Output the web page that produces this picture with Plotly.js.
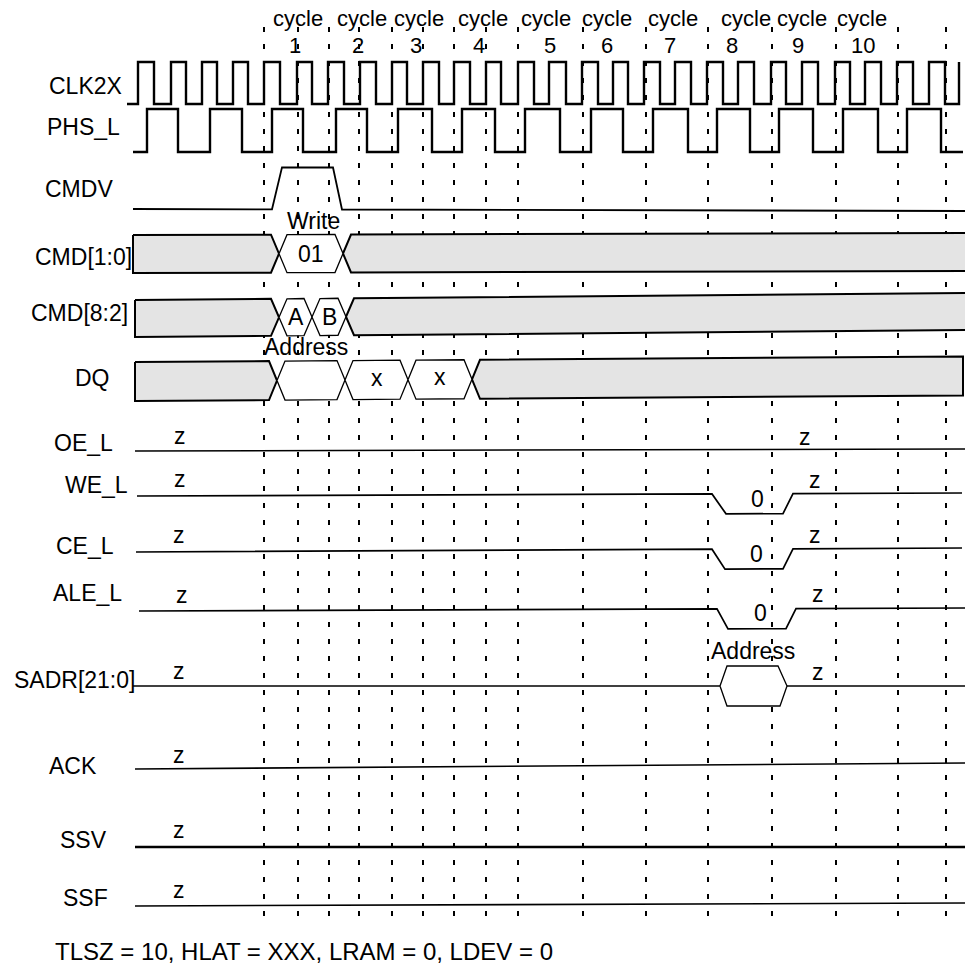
<!DOCTYPE html>
<html><head><meta charset="utf-8">
<script src="https://cdn.plot.ly/plotly-3.0.1.min.js"></script>
<style>html,body{margin:0;padding:0;background:#fff;overflow:hidden}</style>
</head><body><div id="chart" style="width:965px;height:966px"></div>
<script>
// ---------------- DATA ----------------
const signalNames = ['CLK2X','PHS_L','CMDV','CMD[1:0]','CMD[8:2]','DQ','OE_L','WE_L','CE_L','ALE_L','SADR[21:0]','ACK','SSV','SSF'];
const cycleNumbers = ['1','2','3','4','5','6','7','8','9','10'];
const footerText = 'TLSZ = 10, HLAT = XXX, LRAM = 0, LDEV = 0';

// clock edge times
const clkRise = [138,171,202,233,264,297,328,360,392,423,454,486,518,549,582,613,644,675,707,738,771,802,835,865,897,929,959];
const clkFall = [154,186,217,248,280,312,344,376,407,439,470,501,534,566,598,628,660,691,723,754,786,818,850,881,913,945];
const phsRise = [147,210,272,336,398,462,525,591,653,717,779,843,907];
const phsFall = [178,242,303,367,432,495,560,623,688,750,813,878,941];

// cycle boundary markers (dotted lines)
const cycleMarks = [264,298,329,359,392,423,454,486,518,583,646,708,772,836,898,946];

// single-bit signals: time points and logic level (1 = high / z, 0 = low)
const cmdvT = [133,272,282,333,342,965];   const cmdvL = [0,0,1,1,0,0];
const oeT   = [135,965];                   const oeL   = [1,1];
const weT   = [137,712,726,783,793,962];   const weL   = [1,1,0,0,1,1];
const ceT   = [136,712,725,783,793,962];   const ceL   = [1,1,0,0,1,1];
const aleT  = [139,717,728,786,796,965];   const aleL  = [1,1,0,0,1,1];
const ackT  = [135,965];                   const ackL  = [1,1];
const ssvT  = [135,965];                   const ssvL  = [1,1];
const ssfT  = [135,965];                   const ssfL  = [1,1];

// buses: crossing times, segment kinds (g = unknown/grey, w = valid) and values
const cmd10Cross = [279,343];           const cmd10Kind = ['g','w','g'];     const cmd10Val = ['','01',''];
const cmd82Cross = [279,312,346];       const cmd82Kind = ['g','w','w','g']; const cmd82Val = ['','A','B',''];
const dqCross    = [277,345,408,472];   const dqKind    = ['g','w','w','w','g']; const dqVal = ['','','x','x',''];
const sadrCross  = [720,787];

// ---------------- LAYOUT CONSTANTS ----------------
const FONT = 'Liberation Sans, Arial, sans-serif';
const traces = [];
const ann = [];
function txt(x, y, t, size, extra) {
  ann.push(Object.assign({x:x, y:y, xref:'x', yref:'y', text:t, showarrow:false,
    xanchor:'center', yanchor:'middle', font:{family:FONT, size:size||23, color:'#000'}}, extra||{}));
}

// dotted cycle markers
(function(){
  const xs=[], ys=[];
  cycleMarks.forEach(m => { xs.push(m, m, null); ys.push(27, 925, null); });
  traces.push({x:xs, y:ys, mode:'lines', line:{color:'#000', width:2, dash:'5px,12px'}, hoverinfo:'skip'});
})();

// clocks
function clockTrace(start, end, rises, falls, hi, lo) {
  const ev = rises.map(x=>[x,1]).concat(falls.map(x=>[x,0])).sort((a,b)=>a[0]-b[0]);
  const xs=[start], ys=[lo]; let cur=0;
  ev.forEach(([x,l]) => { xs.push(x,x); ys.push(cur?hi:lo, l?hi:lo); cur=l; });
  if (end > xs[xs.length-1]) { xs.push(end); ys.push(cur?hi:lo); }
  traces.push({x:xs, y:ys, mode:'lines', line:{color:'#000', width:2.4, shape:'linear'}, hoverinfo:'skip'});
}
clockTrace(127, 959, clkRise, clkFall, 62, 104);
clockTrace(133, 963, phsRise, phsFall, 109, 152);

// single-bit waveforms
function wave(T, L, yl, yr, swing, width) {
  const x0=T[0], x1=T[T.length-1];
  const xs = T.slice();
  const ys = T.map((t,i) => yl + (yr-yl)*(t-x0)/(x1-x0) + (1-L[i])*swing);
  traces.push({x:xs, y:ys, mode:'lines', line:{color:'#000', width:width||1.6}, hoverinfo:'skip'});
}
wave(cmdvT, cmdvL, 167, 169, 42, 1.8);
wave(oeT, oeL, 451, 449, 0, 1.5);
wave(weT, weL, 496, 493, 20, 1.7);
wave(ceT, ceL, 552, 548, 20, 1.7);
wave(aleT, aleL, 611, 608, 20, 1.7);
wave(ackT, ackL, 769, 763, 0, 1.6);
wave(ssvT, ssvL, 847, 847, 0, 2.6);
wave(ssfT, ssfL, 906, 903, 0, 1.6);

// buses
function bus(x0, x1, yl, yr, h, cross, kind, vals, s) {
  const yc = x => yl + (yr-yl)*(x-x0)/(x1-x0);
  const bounds = [x0].concat(cross).concat([x1]);
  for (let i=0;i<kind.length;i++) {
    const a=bounds[i], b=bounds[i+1];
    const sa = i>0 ? s : 0, sb = i<kind.length-1 ? s : 0;
    const xs=[], ys=[];
    if (sa) { xs.push(a); ys.push(yc(a)); }
    xs.push(a+sa); ys.push(yc(a)-h);
    xs.push(b-sb); ys.push(yc(b)-h);
    if (sb) { xs.push(b); ys.push(yc(b)); }
    xs.push(b-sb); ys.push(yc(b)+h);
    xs.push(a+sa); ys.push(yc(a)+h);
    xs.push(xs[0]); ys.push(ys[0]);
    traces.push({x:xs, y:ys, mode:'lines', fill:'toself',
      fillcolor: kind[i]==='g' ? '#e4e4e4' : '#ffffff',
      line:{color:'#000', width: kind[i]==='g' ? 2 : 1.3}, hoverinfo:'skip'});
    if (vals[i]) txt((a+b)/2, yc((a+b)/2) + (vals[i]==='x'?-2:0), vals[i]);
  }
}
bus(133, 975, 254, 252, 19, cmd10Cross, cmd10Kind, cmd10Val, 8);
bus(135, 975, 318.5, 311.5, 18.5, cmd82Cross, cmd82Kind, cmd82Val, 8);
bus(135, 963, 381.5, 376, 19.5, dqCross, dqKind, dqVal, 8);

// SADR: z line with an address hexagon
traces.push({x:[133, sadrCross[0]], y:[686,686], mode:'lines', line:{color:'#000', width:1.6}, hoverinfo:'skip'});
traces.push({x:[sadrCross[1], 965], y:[686,686], mode:'lines', line:{color:'#000', width:1.6}, hoverinfo:'skip'});
(function(){
  const a=sadrCross[0], b=sadrCross[1], s=7, h=20, c=686;
  traces.push({x:[a, a+s, b-s-2, b, b-s, a+s, a], y:[c, c-h, c-h, c, c+h, c+h, c],
    mode:'lines', fill:'toself', fillcolor:'#fff', line:{color:'#000', width:1.3}, hoverinfo:'skip'});
})();

// signal names
const nameX = [85, 83, 79, 83, 79, 92, 83, 96, 85, 87, 74, 73, 83, 85];
const nameY = [86, 127, 189, 257, 313, 378, 443, 485, 546, 593, 680, 766, 840, 898];
signalNames.forEach((n,i) => txt(nameX[i], nameY[i], n, 23));

// cycle labels
const cycX = [298,362,419,483,546,607,673,746,802,862];
const numX = [295,358,416,479,550,607,670,732,798,863];
cycleNumbers.forEach((n,i) => { txt(cycX[i], 18, 'cycle', 22); txt(numX[i], 45, n, 22); });

// waveform annotations
txt(313, 221, 'Write');
txt(306, 347, 'Address');
txt(753, 651, 'Address');
[[180,436],[805,437],[180,479],[815,480],[179,535],[815,535],[182,595],[818,594],[179,671],[818,672],[179,755],[179,830],[179,890]]
  .forEach(p => txt(p[0], p[1], 'z'));
txt(757, 499, '0'); txt(756, 554, '0'); txt(760, 613, '0');

// footer
txt(53, 951, footerText, 24, {xanchor:'left'});

const layout = {
  width:965, height:966, margin:{l:0,r:0,t:0,b:0}, showlegend:false,
  paper_bgcolor:'#fff', plot_bgcolor:'#fff',
  xaxis:{range:[0,965], visible:false, fixedrange:true},
  yaxis:{range:[966,0], visible:false, fixedrange:true},
  annotations: ann
};
Plotly.newPlot('chart', traces, layout, {staticPlot:true, displayModeBar:false});
</script></body></html>
